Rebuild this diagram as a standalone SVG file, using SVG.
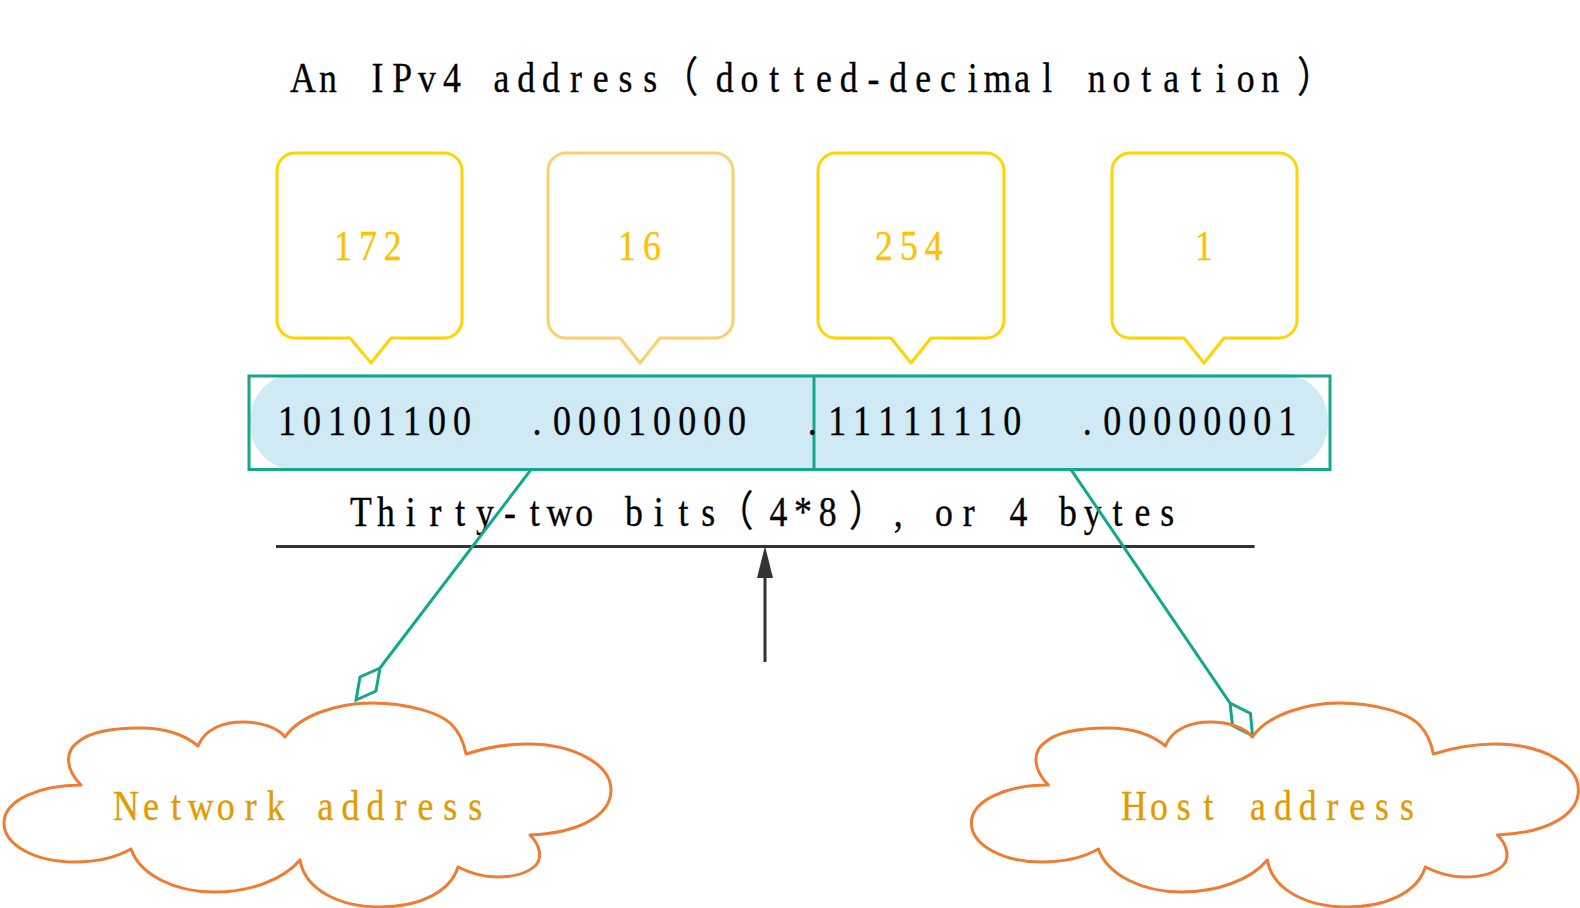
<svg xmlns="http://www.w3.org/2000/svg" width="1580" height="908" viewBox="0 0 1580 908">
<style>
text{font-family:"Liberation Serif","Noto Sans CJK SC",serif;font-size:42px;text-anchor:middle;white-space:pre;stroke-width:.35}
.k{fill:#000;stroke:#000}.n{fill:#FFC000;stroke:#FFC000}.a{fill:#E29B00;stroke:#E29B00}
.c{fill:#fff;stroke-width:3;stroke-linejoin:round}
.t{fill:none;stroke:#13A88A;stroke-width:3}
.d{fill:none;stroke:#333;stroke-width:3}
.cl{fill:none;stroke:#F07B32;stroke-width:3;stroke-linejoin:round}
</style>
<defs>
<marker id="arr" markerUnits="userSpaceOnUse" markerWidth="34" markerHeight="16" refX="0" refY="8" orient="auto"><path d="M0,0L32,8L0,16Z" fill="#333"/></marker>
<path id="cloud" d="M81,785C66,770 64,752 78,742C92,730 118,728 140,728C165,728 185,735 198,746C205,728 225,722 243,722C262,722 278,728 285,737C300,715 338,703 372,703C405,703 440,712 452,725C460,733 464,744 466,754C485,748 505,744 528,744C575,744 611,765 611,790C611,815 580,833 530,835C540,845 543,858 535,866C525,875 510,877 497,877C483,877 470,873 458,867C450,892 420,907 379,907C340,907 305,890 300,860C283,880 250,892 214,892C175,892 140,875 131,849C115,858 95,862 75,862C35,862 4,845 4,823C4,800 40,785 81,785Z"/>
</defs>
<g id="title"><text class="k" transform="translate(303,92) scale(.85,1)" x="0 29.2 58.4 87.5 116.7 145.9 175.1 204.3 233.4 262.6 291.8 321 350.2 379.3 408.5 444 496.1 525.2 554.4 583.6 612.8 642 671.1 700.3 729.5 758.7 787.9 817 846.2 875.4 904.6 933.8 963 992.1 1021.3 1050.5 1079.7 1108.9 1138 1190.5">An IPv4 address（dotted-decimal notation）</text></g>
<g id="node-172"><path class="c" stroke="#FFD400" d="M295,153H444a18,18 0 0 1 18,18V320a18,18 0 0 1 -18,18H391L371,363L350,338H295a18,18 0 0 1 -18,-18V171a18,18 0 0 1 18,-18Z"/><text class="n" transform="translate(343,260) scale(.85,1)" x="0 29.2 58.4">172</text></g>
<g id="node-16"><path class="c" stroke="#FFCF6E" d="M566,153H715a18,18 0 0 1 18,18V320a18,18 0 0 1 -18,18H660L640,363L620,338H566a18,18 0 0 1 -18,-18V171a18,18 0 0 1 18,-18Z"/><text class="n" transform="translate(627,260) scale(.85,1)" x="0 29.2">16</text></g>
<g id="node-254"><path class="c" stroke="#FFD400" d="M836,153H986a18,18 0 0 1 18,18V320a18,18 0 0 1 -18,18H931L911,363L891,338H836a18,18 0 0 1 -18,-18V171a18,18 0 0 1 18,-18Z"/><text class="n" transform="translate(884,260) scale(.85,1)" x="0 29.2 58.4">254</text></g>
<g id="node-1"><path class="c" stroke="#FFD400" d="M1130,153H1279a18,18 0 0 1 18,18V320a18,18 0 0 1 -18,18H1224L1204,363L1184,338H1130a18,18 0 0 1 -18,-18V171a18,18 0 0 1 18,-18Z"/><text class="n" transform="translate(1204,260) scale(.85,1)" x="0">1</text></g>
<g id="bits"><rect x="250" y="374" width="1078" height="96" rx="46" fill="#CFEAF5"/><rect class="t" x="249" y="376" width="1081" height="93.5"/><path class="t" d="M814,376V469.5"/><text class="k" transform="translate(287,435) scale(.857,1)" x="0 29.2 58.4 87.5 116.7 145.9 175.1 204.3 233.4 262.6 291.8 321 350.2 379.3 408.5 437.7 466.9 496.1 525.2 554.4 583.6 612.8 642 671.1 700.3 729.5 758.7 787.9 817 846.2 875.4 904.6 933.8 963 992.1 1021.3 1050.5 1079.7 1108.9 1138 1167.2">10101100  .00010000  .11111110  .00000001</text></g>
<g id="caption"><text class="k" transform="translate(361,526) scale(.85,1)" x="0 29.2 58.4 87.5 116.7 145.9 175.1 204.3 233.4 262.6 291.8 321 350.2 379.3 408.5 440.6 491 520 549 595 632 658 685.7 714.9 744.1 773.3 802.4 831.6 860.8 890 919.2 948.4">Thirty-two bits（4*8）, or 4 bytes</text></g>
<g id="connectors">
<path class="d" d="M276,546.5H1254.6"/>
<path class="d" d="M765,662V578" marker-end="url(#arr)"/>
<path class="t" d="M531,469.6L380,668L360,677L356,700L376,691L380,668"/>
<path class="t" d="M1071,469.6L1230,703L1250.5,713.5L1252.5,735.6L1232.5,725.5L1230,703"/>
</g>
<g id="network-address"><use href="#cloud" class="cl"/><text class="a" transform="translate(126,820) scale(.855,1)" x="0 29.2 58.4 87.5 116.7 145.9 175.1 204.3 233.4 262.6 291.8 321 350.2 379.3 408.5">Network address</text></g>
<g id="host-address"><use href="#cloud" class="cl" x="967.4"/><text class="a" transform="translate(1134,820) scale(.85,1)" x="0 29.2 58.4 87.5 116.7 145.9 175.1 204.3 233.4 262.6 291.8 321">Host address</text></g>
</svg>
